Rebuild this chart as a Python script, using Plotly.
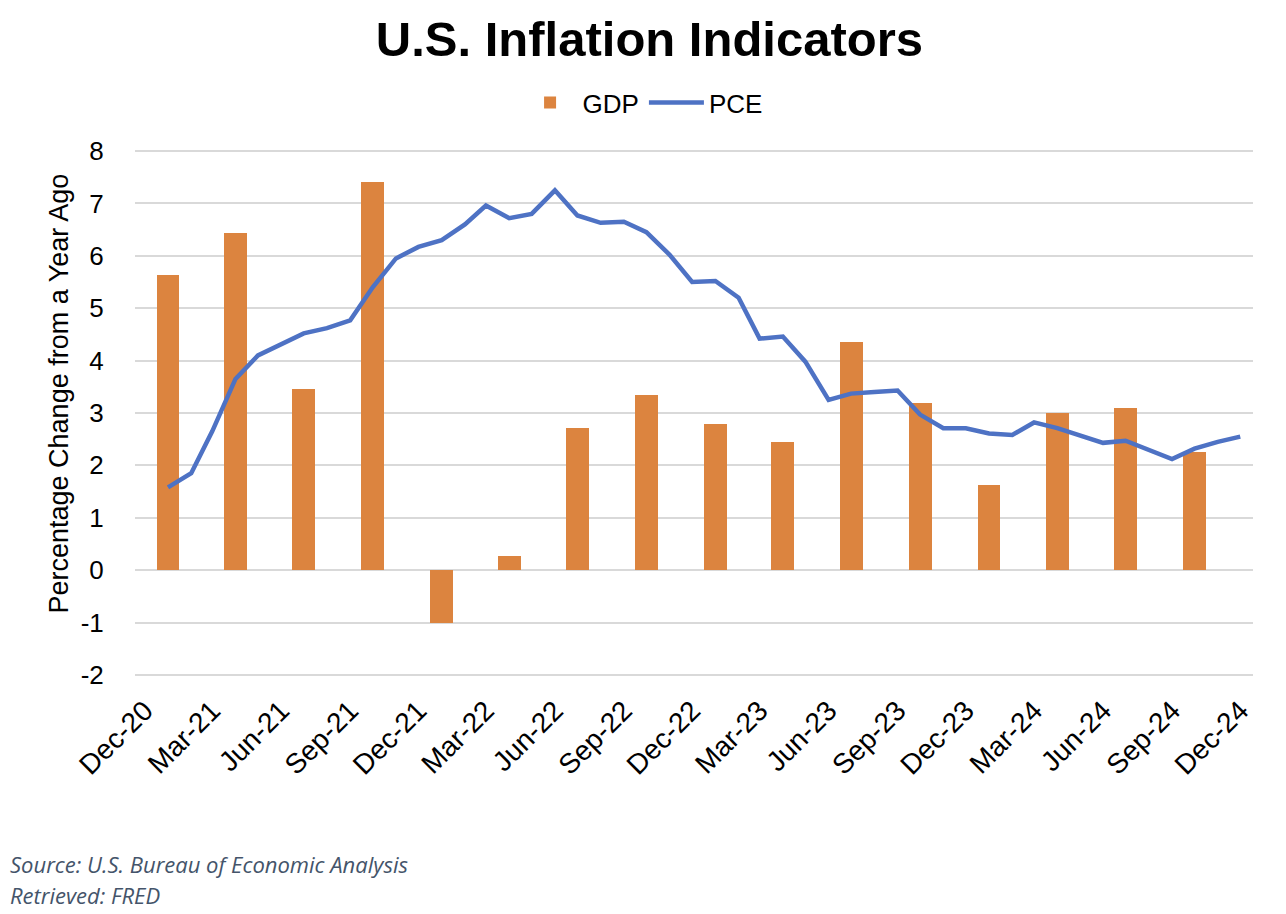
import plotly.graph_objects as go

gdp_dates = ["2021-01-01", "2021-04-01", "2021-07-01", "2021-10-01",
             "2022-01-01", "2022-04-01", "2022-07-01", "2022-10-01",
             "2023-01-01", "2023-04-01", "2023-07-01", "2023-10-01",
             "2024-01-01", "2024-04-01", "2024-07-01", "2024-10-01"]
gdp_values = [5.63, 6.43, 3.45, 7.40, -1.01, 0.27, 2.71, 3.34,
              2.79, 2.44, 4.35, 3.19, 1.62, 3.00, 3.09, 2.25]

pce_dates = [f"{y}-{m:02d}-01" for y in (2021, 2022, 2023, 2024) for m in range(1, 13)]
pce_values = [1.58, 1.85, 2.65, 3.65, 4.10, 4.32, 4.52, 4.62, 4.77, 5.40, 5.95, 6.17,
              6.30, 6.60, 6.96, 6.72, 6.80, 7.25, 6.77, 6.63, 6.65, 6.45, 6.02, 5.50,
              5.52, 5.20, 4.42, 4.46, 3.98, 3.25, 3.37, 3.40, 3.43, 2.97, 2.71, 2.71,
              2.61, 2.58, 2.82, 2.71, 2.57, 2.43, 2.47, 2.30, 2.12, 2.32, 2.45, 2.55]

tick_dates = ["2020-12-01", "2021-03-01", "2021-06-01", "2021-09-01", "2021-12-01",
              "2022-03-01", "2022-06-01", "2022-09-01", "2022-12-01", "2023-03-01",
              "2023-06-01", "2023-09-01", "2023-12-01", "2024-03-01", "2024-06-01",
              "2024-09-01", "2024-12-01"]
tick_labels = ["Dec-20", "Mar-21", "Jun-21", "Sep-21", "Dec-21", "Mar-22", "Jun-22",
               "Sep-22", "Dec-22", "Mar-23", "Jun-23", "Sep-23", "Dec-23", "Mar-24",
               "Jun-24", "Sep-24", "Dec-24"]

y_tick_vals = [-2, -1, 0, 1, 2, 3, 4, 5, 6, 7, 8]
y_tick_text = ["-2", "-1", "0", "1", "2", "3", "4", "5", "6", "7", "8"]

fig = go.Figure()
fig.add_trace(go.Bar(x=gdp_dates, y=gdp_values, name="GDP",
                     marker=dict(color="#DC843F", line=dict(width=0)),
                     width=30.5 * 86400000))
fig.add_trace(go.Scatter(x=pce_dates, y=pce_values, name="PCE", mode="lines",
                         line=dict(color="#4E72C4", width=4.5)))

fig.update_layout(
    width=1286, height=914,
    paper_bgcolor="white", plot_bgcolor="white",
    margin=dict(l=135, r=33, t=150, b=238),
    font=dict(family="Liberation Sans, Arial, sans-serif", color="black", size=24),
    title=dict(text="<b>U.S. Inflation Indicators</b>", x=0.505, xanchor="center",
               y=0.957, yanchor="middle",
               font=dict(family="Liberation Sans, Arial", size=49, color="black")),
    legend=dict(orientation="h", x=0.454, xanchor="center", y=1.09, yanchor="middle",
                font=dict(size=26), itemwidth=55, traceorder="normal"),
    bargap=0,
    showlegend=True,
)
fig.update_xaxes(type="date", range=["2020-11-18", "2024-12-18"],
                 tickvals=tick_dates, ticktext=tick_labels, tickangle=-45,
                 showgrid=False, showline=False, zeroline=False, automargin=False,
                 ticks="outside", ticklen=6, tickcolor="rgba(0,0,0,0)",
                 tickfont=dict(size=28))
fig.update_yaxes(range=[-2.02, 8.02], tickvals=y_tick_vals, ticktext=y_tick_text,
                 showgrid=True, gridcolor="#D9D9D9",
                 gridwidth=1.5, zeroline=False, showline=False, automargin=False,
                 ticks="outside", ticklen=25, tickcolor="rgba(0,0,0,0)",
                 tickfont=dict(size=26))

fig.add_annotation(text="Percentage Change from a Year Ago", xref="paper", yref="paper",
                   x=-0.068, xanchor="center", y=0.537, yanchor="middle", textangle=-90,
                   showarrow=False, font=dict(size=27, color="black"))

fig.add_annotation(text="<i>Source: U.S. Bureau of Economic Analysis</i>", xref="paper", yref="paper",
                   x=-0.1136, xanchor="left", y=-0.357, yanchor="middle", showarrow=False,
                   font=dict(family="Open Sans, Lato, sans-serif", size=22, color="#44546A"))
fig.add_annotation(text="<i>Retrieved: FRED</i>", xref="paper", yref="paper",
                   x=-0.1136, xanchor="left", y=-0.416, yanchor="middle", showarrow=False,
                   font=dict(family="Open Sans, Lato, sans-serif", size=22, color="#44546A"))

fig.write_html("out.html", config={"displayModeBar": False},
               post_script="document.body.style.margin='0px';")
